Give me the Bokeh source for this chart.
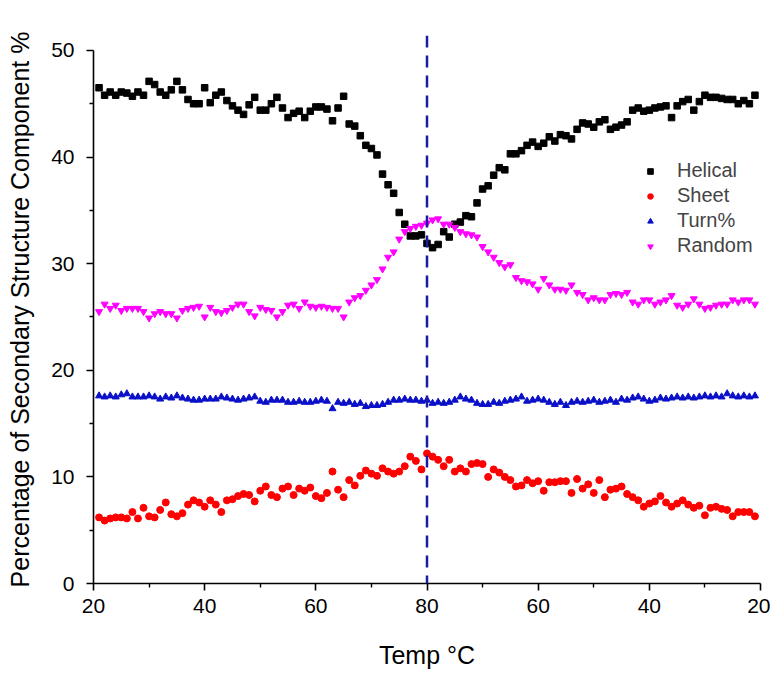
from bokeh.plotting import figure
from bokeh.models import Span, Legend, LegendItem, FixedTicker, Range1d
from bokeh.embed import file_html
from bokeh.resources import INLINE

# ---------------- data ----------------
heat_T = list(range(21, 81))          # heating run 21 -> 80 °C
cool_T = list(range(79, 20, -1))      # cooling run 79 -> 21 °C
turn_point_T = 80

helical_heat = [46.5, 45.8, 46.1, 45.8, 46.1, 46.0, 45.7, 46.1, 45.8, 47.1,
                46.8, 46.1, 45.8, 46.3, 47.1, 46.3, 45.4, 45.0, 45.0, 46.5,
                45.1, 45.8, 46.1, 45.3, 44.8, 44.4, 44.0, 44.9, 45.6, 44.4,
                44.4, 45.0, 45.6, 44.6, 43.7, 44.1, 44.3, 43.7, 44.3, 44.7,
                44.7, 44.5, 43.4, 44.6, 45.7, 43.1, 42.9, 42.0, 41.1, 40.8,
                40.2, 38.4, 37.4, 36.6, 34.8, 33.7, 32.6, 32.6, 32.7, 31.9]
helical_cool = [31.5, 31.8, 33.0, 32.5, 33.7, 33.9, 34.5, 34.4, 35.7, 37.0,
                37.3, 38.3, 39.0, 38.8, 40.3, 40.3, 40.6, 41.1, 41.4, 41.0,
                41.3, 41.9, 41.5, 42.1, 42.0, 41.7, 42.6, 43.2, 43.1,
                42.8, 43.3, 43.5, 42.6, 42.8, 43.0, 43.3, 44.4, 44.6, 44.3,
                44.4, 44.6, 44.7, 44.8, 43.7, 44.8, 45.2, 45.4, 44.4, 45.2,
                45.8, 45.6, 45.6, 45.5, 45.4, 45.4, 45.0, 45.3, 45.0, 45.8]

sheet_heat = [6.2, 5.9, 6.1, 6.2, 6.2, 6.1, 6.7, 6.1, 7.1, 6.3,
              6.2, 6.9, 7.6, 6.5, 6.3, 6.6, 7.4, 7.8, 7.6, 7.2,
              7.8, 7.4, 6.7, 7.8, 7.9, 8.2, 8.4, 8.3, 7.7, 8.7,
              9.1, 8.3, 8.1, 8.9, 9.1, 8.3, 8.9, 8.7, 9.0, 8.2,
              8.0, 8.5, 10.5, 8.8, 8.1, 9.7, 9.2, 10.1, 10.6, 10.3,
              10.1, 10.8, 10.5, 10.3, 10.5, 11.0, 11.9, 11.5, 10.7, 12.2]
sheet_cool = [11.9, 11.6, 11.0, 11.6, 10.5, 10.8, 10.5, 11.2, 11.3, 11.2,
              10.0, 10.7, 10.4, 10.0, 9.7, 9.1, 9.2, 9.7, 9.4, 9.6,
              8.7, 9.5, 9.5, 9.6, 9.6, 8.5, 9.8, 8.9, 9.3, 8.5,
              9.7, 8.1, 8.8, 8.9, 9.1, 8.4, 8.1, 7.8, 7.2, 7.5,
              7.7, 8.2, 7.6, 7.2, 7.5, 7.8, 7.4, 7.1, 7.3, 6.4,
              7.1, 7.2, 7.0, 6.9, 6.3, 6.7, 6.7, 6.7, 6.3]

turn_heat = [17.6, 17.5, 17.6, 17.5, 17.7, 17.8, 17.5, 17.5, 17.5, 17.6,
             17.5, 17.3, 17.5, 17.4, 17.6, 17.4, 17.3, 17.2, 17.2, 17.3,
             17.3, 17.3, 17.5, 17.4, 17.3, 17.2, 17.3, 17.4, 17.5, 17.1,
             17.0, 17.2, 17.2, 17.2, 17.0, 17.0, 17.1, 17.0, 17.0, 17.1,
             17.2, 17.1, 16.4, 17.0, 16.9, 17.0, 16.8, 16.9, 16.6, 16.7,
             16.7, 16.8, 17.0, 17.2, 17.2, 17.3, 17.2, 17.2, 17.1, 17.2]
turn_cool = [16.9, 17.0, 16.9, 17.0, 17.2, 17.5, 17.3, 17.2, 16.9, 16.8,
             16.8, 17.0, 16.9, 17.1, 17.2, 17.3, 17.5, 17.1, 17.2, 17.3,
             17.2, 17.0, 16.8, 17.0, 16.7, 17.0, 17.1, 17.0, 17.1, 17.2,
             17.0, 17.1, 17.2, 17.0, 17.3, 17.2, 17.4, 17.5, 17.3, 17.1,
             17.2, 17.4, 17.3, 17.4, 17.5, 17.4, 17.5, 17.4, 17.5, 17.6,
             17.5, 17.6, 17.5, 17.8, 17.6, 17.5, 17.6, 17.5, 17.6]

random_heat = [25.5, 26.2, 25.8, 26.1, 25.6, 25.8, 25.8, 25.8, 25.5, 24.9,
               25.3, 25.5, 25.3, 25.3, 24.9, 25.6, 25.8, 25.9, 26.0, 25.0,
               25.9, 25.5, 25.4, 25.6, 25.9, 26.2, 26.2, 25.5, 25.1, 25.9,
               25.7, 25.6, 25.0, 25.5, 26.1, 26.2, 25.8, 26.4, 26.0, 25.9,
               26.0, 25.9, 25.8, 25.8, 25.0, 26.4, 26.8, 27.0, 27.5, 28.0,
               28.5, 29.5, 30.6, 31.1, 32.3, 33.0, 33.3, 33.5, 33.6, 33.8]
random_cool = [34.1, 34.2, 33.7, 33.7, 33.4, 33.0, 32.8, 32.7, 32.5, 31.6,
               31.1, 30.6, 30.1, 29.7, 29.9, 28.7, 28.4, 28.3, 28.1, 27.6,
               28.6, 28.0, 27.6, 27.6, 27.5, 28.0, 27.3, 27.1, 26.6,
               26.8, 26.6, 26.6, 27.1, 27.2, 27.1, 27.3, 26.4, 26.2, 26.6,
               26.6, 26.2, 26.4, 26.6, 27.0, 26.1, 25.9, 26.2, 26.7, 26.2,
               25.8, 25.9, 26.1, 26.2, 26.2, 26.6, 26.4, 26.6, 26.6, 26.2]

x_tick_temps = [20, 40, 60, 80, 60, 40, 20]
x_minor_temps = [30, 50, 70, 70, 50, 30]
y_ticks = [0, 10, 20, 30, 40, 50]
y_minor = [5, 15, 25, 35, 45]

series_names = ["Helical", "Sheet", "Turn%", "Random"]

# ---------------- position along the heat/cool run ----------------
T_MIN, T_MAX = 20, 80
def pos_heat(t):
    return t - T_MIN
def pos_cool(t):
    return (T_MAX - T_MIN) + (T_MAX - t)

xs = [pos_heat(t) for t in heat_T] + [pos_cool(t) for t in cool_T]

major_pos = [pos_heat(t) for t in x_tick_temps[:4]] + [pos_cool(t) for t in x_tick_temps[4:]]
minor_pos = [pos_heat(t) for t in x_minor_temps[:3]] + [pos_cool(t) for t in x_minor_temps[3:]]

FONT = "Liberation Sans"

p = figure(width=770, height=674, output_backend="svg", toolbar_location=None,
           x_range=Range1d(pos_heat(T_MIN), pos_cool(T_MIN)), y_range=Range1d(0, 51.4),
           min_border_left=93, min_border_right=10, min_border_top=35, min_border_bottom=91)
p.outline_line_color = None
p.xgrid.visible = False
p.ygrid.visible = False
p.background_fill_color = "white"
p.border_fill_color = "white"

r_hel = p.scatter(xs, helical_heat + helical_cool, marker="square", size=6.5,
                  fill_color="black", line_color="black")
r_sh = p.scatter(xs, sheet_heat + sheet_cool, marker="circle", size=7,
                 fill_color="#ff0000", line_color="#ff0000")
r_tu = p.scatter(xs, turn_heat + turn_cool, marker="triangle", size=7,
                 fill_color="#0a10c8", line_color="#0a10c8")
r_ra = p.scatter(xs, random_heat + random_cool, marker="inverted_triangle", size=7,
                 fill_color="#ff00ff", line_color="#ff00ff")

span = Span(location=pos_heat(turn_point_T), dimension="height", line_color="#1a1aa6",
            line_width=2.5, line_dash="12 8")
p.add_layout(span)

# axes
xa = p.xaxis[0]
xa.ticker = FixedTicker(ticks=major_pos, minor_ticks=minor_pos)
xa.major_label_overrides = {pp: str(t) for pp, t in zip(major_pos, x_tick_temps)}
xa.bounds = (pos_heat(T_MIN), pos_cool(T_MIN))
xa.axis_label = "Temp °C"

ya = p.yaxis[0]
ya.ticker = FixedTicker(ticks=y_ticks, minor_ticks=y_minor)
ya.bounds = (0, 50)
ya.axis_label = "Percentage of Secondary Structure Component %"

for ax in (xa, ya):
    ax.axis_line_width = 1.6
    ax.axis_line_color = "black"
    ax.major_tick_line_color = "black"
    ax.minor_tick_line_color = "black"
    ax.major_tick_line_width = 1.6
    ax.minor_tick_line_width = 1.4
    ax.major_tick_in = 0
    ax.major_tick_out = 7
    ax.minor_tick_in = 0
    ax.minor_tick_out = 4
    ax.major_label_text_font = FONT
    ax.major_label_text_font_size = "21px"
    ax.major_label_text_color = "black"
    ax.axis_label_text_font = FONT
    ax.axis_label_text_font_style = "normal"
    ax.axis_label_text_color = "black"

xa.axis_label_text_font_size = "25px"
ya.axis_label_text_font_size = "25px"
xa.major_label_standoff = 8
xa.axis_label_standoff = 25
ya.major_label_standoff = 12
ya.axis_label_standoff = 14

legend = Legend(items=[LegendItem(label=n, renderers=[r]) for n, r in
                       zip(series_names, [r_hel, r_sh, r_tu, r_ra])],
                location=(550, 326), padding=0, spacing=2,
                glyph_width=14, glyph_height=20, label_height=20, label_standoff=20,
                label_text_font=FONT, label_text_font_size="20px",
                border_line_color=None, background_fill_alpha=0)
p.add_layout(legend)

open("out.html", "w").write(file_html(p, INLINE))
